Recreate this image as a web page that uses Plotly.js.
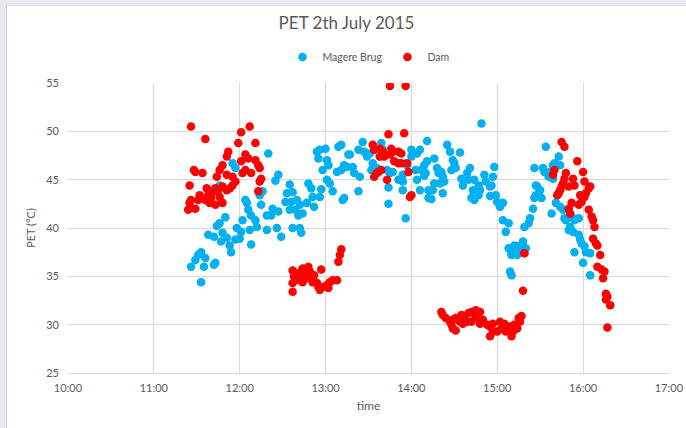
<!DOCTYPE html>
<html>
<head>
<meta charset="utf-8">
<script src="https://cdn.plot.ly/plotly-3.0.1.min.js"></script>
<style>
html,body{margin:0;padding:0;background:#E9E8EF;width:686px;height:428px;overflow:hidden;}
#wrap{position:absolute;left:6px;top:5px;width:680px;height:423px;background:#fff;border-left:1px solid #D0D0D0;border-top:1px solid #E0E0E0;}
#chart{width:679px;height:422px;}
</style>
</head>
<body>
<div id="wrap"><div id="chart"></div></div>
<script>
// Magere Brug (blue)
const blueTime = ["11:26","11:29","11:31","11:33","11:33","11:35","11:36","11:42","11:43","11:38","11:42","11:44","11:46","11:50","11:48","11:51","11:47","11:53","11:54","11:57","12:01","12:00","11:58","12:02","12:04","12:05","12:06","12:08","12:07","12:08","12:11","12:12","12:14","12:15","12:16","12:19","12:19","12:20","11:55","11:57","11:46",
"12:27","12:25","12:23","12:22","12:27","12:26","12:29","12:32","12:33","12:35","12:37","12:36","12:40","12:35","12:39","12:42","12:37","12:42","12:43","12:41","12:44","12:47","12:48","12:50","12:51","12:52","12:57","12:56","12:54","12:56","12:55","13:00","13:01","13:02","12:58","13:01","13:03","13:05","13:12","13:09","13:11","13:08","13:11","13:15","13:16",
"13:13","13:13","13:17","13:19","13:20","13:24","13:23","13:26","13:27","13:29","13:31","13:33","13:32","13:36","13:39","13:40","13:38","13:43","13:45","13:47","13:23","13:44","13:44","13:51","13:54","13:54","13:56","14:00","14:00","14:04","14:06","14:03","14:07","14:04","14:06","14:11","14:11","14:12","14:12","13:57","13:54",
"14:09","14:10","14:09","14:16","14:18","14:19","14:21","14:22","14:23","14:16","14:20","14:15","14:14","14:22","14:25","14:27","14:29","14:30","14:34","14:31","14:28","14:35","14:36","14:41","14:39","14:40","14:44","14:43","14:47","14:48","14:42","14:44","14:47","14:49","14:51","14:52","14:55","14:55","14:58","14:57","14:56","14:59","15:00","15:02","15:04","15:04","15:08","15:06","15:08","15:10","15:14","15:09","15:10",
"15:12","15:15","15:14","15:10","15:18","15:17","15:20","15:19","15:19","15:22","15:23","15:25","15:26","15:27","15:28","15:30","15:31","15:27","15:26","15:32","15:33","15:34","15:36","15:37","15:38","15:39","15:40","15:43","15:44","15:39","15:41","15:44","15:46","15:47","15:48","15:50","15:51","15:52","15:54","15:57","15:53","15:57","15:58","15:59","16:01","16:02","16:05","15:54","16:00","16:05"];
const bluePET = [36.0,36.7,37.2,37.5,34.4,36.0,36.9,36.2,36.4,39.3,39.1,40.2,40.5,41.1,39.5,39.0,38.6,38.2,37.5,38.8,39.6,38.9,40.0,40.8,42.9,42.6,41.9,41.3,39.8,38.3,40.8,40.1,43.4,42.4,43.8,41.3,39.8,47.7,46.7,46.2,44.4,
45.5,44.9,42.0,41.3,41.7,40.0,39.1,42.7,43.6,44.5,43.7,42.7,42.9,41.9,41.9,42.4,40.0,40.0,39.5,41.3,41.5,42.6,44.6,44.1,43.2,42.2,44.0,43.2,47.9,48.1,47.2,48.2,47.0,46.5,46.0,45.0,44.6,43.8,42.9,48.4,48.6,45.8,46.0,46.3,47.6,
46.5,43.1,47.6,46.3,45.7,45.3,48.1,48.9,47.9,47.4,47.7,46.7,46.0,46.2,48.8,48.1,47.4,46.0,45.7,45.8,43.8,44.2,42.5,45.0,44.8,43.9,41.0,48.1,47.4,47.7,48.1,46.0,46.0,45.0,43.9,49.0,46.9,43.9,43.1,46.5,45.5,
46.5,45.7,45.4,47.2,46.2,45.7,45.8,45.3,44.8,44.6,44.6,43.9,43.0,43.6,48.6,47.9,47.0,46.7,47.8,46.2,46.0,45.1,44.4,46.2,45.7,45.0,45.0,43.9,44.4,43.9,43.1,42.9,43.4,50.8,45.5,44.8,44.3,43.3,46.3,45.3,44.4,43.4,42.7,42.2,42.6,40.8,40.5,39.6,37.9,37.4,38.1,35.5,35.1,
38.2,37.7,37.2,37.2,38.6,38.2,37.9,37.4,40.1,40.5,41.0,42.0,43.1,43.4,44.3,43.9,43.1,44.4,46.2,46.2,45.8,48.4,45.3,45.8,41.5,46.5,46.7,47.4,46.5,45.1,42.6,42.2,41.9,41.0,40.8,39.8,40.1,41.2,40.8,41.0,39.6,39.3,38.8,38.4,38.1,37.5,37.4,37.5,36.4,35.1];

// Dam (red)
const redTime = ["11:26","11:36","12:07","12:01","11:59","12:11","11:52","11:51","12:04","12:06","12:01","12:11","12:13","12:14","11:48","11:46","11:28","11:29","11:34","11:25","11:44","11:51","11:55","11:57","12:02","12:04","12:08","12:14","12:15","12:13","11:55","11:53","11:51","11:48","11:45","11:43","11:42","11:38","11:40","11:37","11:32","11:31","11:26","11:25","11:29","11:24","11:46","11:48","11:43","11:36","11:39",
"12:37","12:37","12:38","12:37","12:41","12:43","12:44","12:45","12:48","12:49","12:42","12:44","12:47","12:50","12:51","12:52","12:54","12:55","12:56","12:57","12:58","13:01","13:03","13:05","13:08","13:02","13:09","13:10","13:11",
"13:45","13:56","13:44","13:55","13:33","13:34","13:38","13:40","13:46","13:47","13:51","13:53","13:38","13:41","13:45","13:48","13:51","13:53","13:57","13:36","13:37","13:39","13:34","13:43","13:58","13:59","14:00",
"14:21","14:22","14:24","14:27","14:28","14:29","14:31","14:29","14:31","14:34","14:35","14:37","14:40","14:42","14:45","14:48","14:36","14:39","14:42","14:45","14:48","14:50","14:53","14:55","14:57","14:55","15:00","15:02","15:03","15:05","15:06","15:09","15:10","15:11","15:12","15:14","15:15","15:16","15:17","15:18","15:19","14:57",
"15:45","15:47","15:40","15:39","15:48","15:47","15:46","15:45","15:44","15:43","15:42","15:50","15:53","15:54","15:56","16:00","15:52","15:50","15:51","15:58","15:59","15:57","16:01","16:04","16:05","16:04","16:06","16:07","16:08","16:07","16:09","16:10","16:12","16:10","16:13","16:15","16:14","16:16","16:17","16:16","16:19","16:17","16:01","16:02"];
const redPET = [50.5,49.2,50.5,49.9,48.8,48.8,47.9,47.4,47.6,47.2,46.9,47.0,46.5,46.2,46.5,46.0,46.0,45.8,45.7,44.4,45.3,45.5,45.3,44.8,45.7,46.0,45.7,44.8,45.1,43.8,44.4,44.1,43.9,44.3,43.9,44.1,43.8,43.4,43.1,44.1,43.4,42.9,42.9,42.6,42.0,41.9,43.2,42.6,42.4,42.9,42.6,
33.4,34.3,35.0,35.6,35.3,35.5,35.8,35.1,36.0,35.5,34.6,34.4,34.8,35.0,34.4,35.1,34.3,33.9,33.6,35.7,33.9,34.1,34.4,34.6,34.6,33.8,36.5,37.2,37.8,
54.7,54.7,49.7,49.8,48.6,48.1,48.2,47.9,48.2,47.9,47.9,47.7,47.4,47.4,47.6,46.9,46.7,46.7,46.7,45.7,45.8,46.0,45.3,45.0,45.8,43.2,43.4,
31.3,31.0,30.7,30.3,30.0,29.6,29.4,30.5,30.7,30.3,31.0,30.8,31.2,31.3,31.5,31.3,30.1,30.3,30.3,30.7,30.1,30.5,30.0,29.8,30.1,28.8,29.3,30.3,29.6,30.1,29.3,29.8,28.8,29.3,30.0,29.6,30.7,30.3,30.9,33.5,37.4,29.3,
48.9,48.4,46.0,45.5,45.7,45.1,44.6,44.3,43.9,43.6,43.4,44.3,45.1,44.4,46.9,45.8,42.6,42.0,41.5,43.4,42.7,42.4,43.2,44.1,44.3,41.9,41.2,40.8,40.1,38.9,38.4,38.2,37.2,36.0,35.7,35.5,34.8,33.2,32.9,32.6,32.0,29.7,44.8,43.6];

const day = "2015-07-02 ";
const xTickVals = ["10:00","11:00","12:00","13:00","14:00","15:00","16:00","17:00"];

const font = "Lato, 'Open Sans', sans-serif";
const traces = [
  {x: blueTime.map(t => day + t), y: bluePET, name: "Magere Brug", type: "scatter", mode: "markers",
   marker: {color: "#00B0F0", size: 8.5}},
  {x: redTime.map(t => day + t), y: redPET, name: "Dam", type: "scatter", mode: "markers",
   marker: {color: "#FF0000", size: 8.5}}
];
const layout = {
  width: 679, height: 422,
  margin: {l: 61, r: 17, t: 77, b: 55},
  paper_bgcolor: "#FFFFFF", plot_bgcolor: "#FFFFFF",
  font: {family: font, color: "#595959", size: 11},
  title: {text: "PET 2th July 2015", font: {family: font, size: 17, color: "#595959"}, x: 0.5, xanchor: "center", y: 0.96, yanchor: "middle"},
  showlegend: true,
  legend: {orientation: "h", x: 0.5, xanchor: "center", y: 1.09, yanchor: "middle", font: {size: 10.5, color: "#595959"}, itemwidth: 30, traceorder: "normal"},
  xaxis: {
    type: "date",
    range: [day + "10:00", day + "17:00:05"],
    tickvals: xTickVals.map(t => day + t),
    ticktext: xTickVals,
    showgrid: true, gridcolor: "#D9D9D9", gridwidth: 1,
    zeroline: false, showline: true, linecolor: "#D9D9D9",
    ticks: "", ticklabelstandoff: 5, tickfont: {size: 11, color: "#595959"},
    title: {text: "time", font: {size: 12, color: "#595959"}, standoff: 8}
  },
  yaxis: {
    range: [25, 55], dtick: 5, tick0: 25,
    showgrid: true, gridcolor: "#D9D9D9", gridwidth: 1,
    zeroline: false, showline: false,
    ticks: "", ticklabelstandoff: 8, tickfont: {size: 11, color: "#595959"},
    title: {text: "PET (°C)", font: {size: 11, color: "#595959"}, standoff: 8}
  }
};
Plotly.newPlot("chart", traces, layout, {displayModeBar: false, staticPlot: true});
</script>
</body>
</html>
